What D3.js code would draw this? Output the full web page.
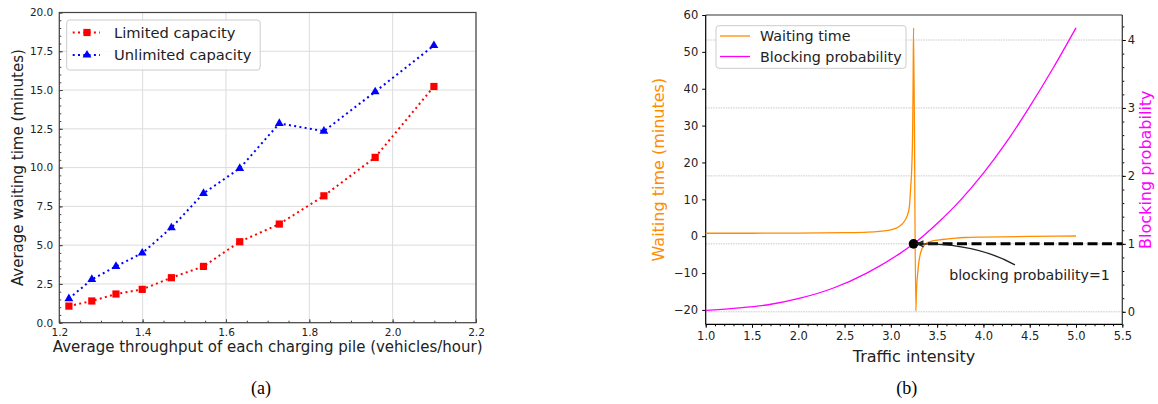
<!DOCTYPE html>
<html><head><meta charset="utf-8">
<script src="https://cdnjs.cloudflare.com/ajax/libs/d3/7.8.5/d3.min.js"></script>
<style>
body{margin:0;background:#fff;}
svg{display:block;font-family:"DejaVu Sans",sans-serif;}
</style></head>
<body>
<svg id="c" width="1158" height="404"></svg>
<script>
// ---------- data: panel (a) ----------
const throughput = [1.223,1.278,1.336,1.399,1.469,1.546,1.633,1.728,1.835,1.958,2.099];
const limitedCap = [1.07,1.40,1.85,2.15,2.90,3.63,5.22,6.36,8.18,10.66,15.23];
const unlimitedCap = [1.55,2.79,3.63,4.49,6.12,8.34,9.95,12.85,12.35,14.89,17.87];
const aXTicks = [1.2,1.4,1.6,1.8,2.0,2.2];
const aYTicks = [0,2.5,5,7.5,10,12.5,15,17.5,20];
const aLegend = ["Limited capacity","Unlimited capacity"];

// ---------- data: panel (b) ----------
const wtX = [1.0,1.5,2.0,2.5,2.75,2.9,3.0,3.05,3.1,3.15,3.18,3.2,3.215,3.225,3.235,3.24,3.245,
             3.27,3.275,3.28,3.29,3.30,3.315,3.33,3.36,3.39,3.45,3.55,3.7,3.8,4.0,4.5,5.0];
const wtY = [0.8,0.8,0.85,0.95,1.1,1.4,1.7,2.1,2.8,4.2,5.8,8.0,13.5,18,28,40,56.5,
             -20.3,-16,-13,-10,-7.5,-5.2,-3.8,-2.5,-1.8,-1.3,-0.9,-0.5,-0.35,-0.25,-0.05,0.05];
const bpX = [1.0,1.3,1.66,2.02,2.38,2.74,3.10,3.245,3.5,3.75,4.0,4.25,4.5,4.75,5.0];
const bpY = [0.02,0.05,0.10,0.20,0.35,0.57,0.86,1.0,1.30,1.64,2.04,2.50,3.02,3.58,4.18];
const bXTicks = [1.0,1.5,2.0,2.5,3.0,3.5,4.0,4.5,5.0,5.5];
const bYLeftTicks = [-20,-10,0,10,20,30,40,50,60];
const bYRightTicks = [0,1,2,3,4];
const bLegend = ["Waiting time","Blocking probability"];
const markPoint = {x:3.245, p:1};
const annotText = "blocking probability=1";
const annotPos = {x:3.63, p:0.47};
const arrowStart = {x:4.34, p:0.69};

const svg = d3.select("#c");
const fmtMinus = s => s.replace("-", "\u2212");

// ================= PANEL (a) =================
(function(){
  const L=59.3,R=476,T=12.5,B=322.7;
  const x = d3.scaleLinear().domain([1.2,2.2]).range([L,R]);
  const y = d3.scaleLinear().domain([0,20]).range([B,T]);
  const g = svg.append("g");
  g.append("g").selectAll("line").data(aXTicks).join("line")
    .attr("x1",d=>x(d)).attr("x2",d=>x(d)).attr("y1",T).attr("y2",B)
    .attr("stroke","#dcdcdc").attr("stroke-width",1);
  g.append("g").selectAll("line").data(aYTicks).join("line")
    .attr("y1",d=>y(d)).attr("y2",d=>y(d)).attr("x1",L).attr("x2",R)
    .attr("stroke","#dcdcdc").attr("stroke-width",1);
  const xMinor = d3.range(1.2,2.2001,0.05);
  const yMinor = d3.range(0,20.001,0.5);
  g.append("g").attr("transform",`translate(0,${B})`)
    .call(d3.axisBottom(x).tickValues(xMinor).tickSize(-2).tickFormat(""))
    .call(a=>a.select(".domain").remove()).selectAll("line").attr("stroke","#444");
  g.append("g").attr("transform",`translate(${L},0)`)
    .call(d3.axisLeft(y).tickValues(yMinor).tickSize(-2).tickFormat(""))
    .call(a=>a.select(".domain").remove()).selectAll("line").attr("stroke","#444");
  const xa = g.append("g").attr("transform",`translate(0,${B})`)
    .call(d3.axisBottom(x).tickValues(aXTicks).tickSize(-3.5).tickPadding(6).tickFormat(d3.format(".1f")));
  const ya = g.append("g").attr("transform",`translate(${L},0)`)
    .call(d3.axisLeft(y).tickValues(aYTicks).tickSize(-3.5).tickPadding(6).tickFormat(d3.format(".1f")));
  [xa,ya].forEach(a=>{a.select(".domain").remove();
    a.selectAll("line").attr("stroke","#444");
    a.selectAll("text").attr("font-family","DejaVu Sans").attr("font-size",10.5).attr("fill","#222");});
  g.append("rect").attr("x",L).attr("y",T).attr("width",R-L).attr("height",B-T)
    .attr("fill","none").attr("stroke","#444").attr("stroke-width",1.2);
  const pts = vals => throughput.map((t,i)=>[x(t),y(vals[i])]);
  const line = d3.line();
  g.append("path").attr("d",line(pts(unlimitedCap))).attr("fill","none")
    .attr("stroke","#0000ff").attr("stroke-width",2).attr("stroke-dasharray","2,3.3");
  g.append("path").attr("d",line(pts(limitedCap))).attr("fill","none")
    .attr("stroke","#ff0000").attr("stroke-width",2).attr("stroke-dasharray","2,3.3");
  const tri = d3.symbol().type(d3.symbolTriangle).size(34);
  g.append("g").selectAll("path").data(pts(unlimitedCap)).join("path")
    .attr("d",tri).attr("transform",d=>`translate(${d[0]},${d[1]})`).attr("fill","#0000ff");
  g.append("g").selectAll("rect").data(pts(limitedCap)).join("rect")
    .attr("x",d=>d[0]-3.6).attr("y",d=>d[1]-3.6).attr("width",7.2).attr("height",7.2).attr("fill","#ff0000");
  g.append("text").attr("x",(L+R)/2).attr("y",352).attr("text-anchor","middle")
    .attr("font-size",15).attr("fill","#222").text("Average throughput of each charging pile (vehicles/hour)");
  g.append("text").attr("transform",`translate(23,${(T+B)/2}) rotate(-90)`).attr("text-anchor","middle")
    .attr("font-size",15).attr("fill","#222").text("Average waiting time (minutes)");
  const lg = g.append("g");
  lg.append("rect").attr("x",66.7).attr("y",20).attr("width",193.5).attr("height",50).attr("rx",3)
    .attr("fill","#fff").attr("fill-opacity",0.85).attr("stroke","#ccc");
  const cols = ["#ff0000","#0000ff"];
  aLegend.forEach((name,i)=>{
    const cy = 32.5 + i*22.5;
    lg.append("line").attr("x1",72.7).attr("x2",100).attr("y1",cy).attr("y2",cy)
      .attr("stroke",cols[i]).attr("stroke-width",2).attr("stroke-dasharray","2,3.3");
    if(i===0) lg.append("rect").attr("x",87-3.6).attr("y",cy-3.6).attr("width",7.2).attr("height",7.2).attr("fill",cols[i]);
    else lg.append("path").attr("d",tri).attr("transform",`translate(87,${cy})`).attr("fill",cols[i]);
    lg.append("text").attr("x",114).attr("y",cy+5.3).attr("font-size",14.7).attr("fill","#222").text(name);
  });
  svg.append("text").attr("x",261).attr("y",394).attr("text-anchor","middle")
    .attr("font-family","Liberation Serif, Times New Roman, serif").attr("font-size",18).text("(a)");
})();

// ================= PANEL (b) =================
(function(){
  const L=705.7,R=1122.3,T=15,B=324.3;
  const x = d3.scaleLinear().domain([1.0,5.5]).range([L,R]);
  const yl = d3.scaleLinear().domain([-23.9,60]).range([B,T]);
  const yr = d3.scaleLinear().domain([-0.184,4.368]).range([B,T]);
  const g = svg.append("g");
  g.append("g").selectAll("line").data(bYRightTicks).join("line")
    .attr("x1",L).attr("x2",R).attr("y1",d=>yr(d)).attr("y2",d=>yr(d))
    .attr("stroke","#c8c8c8").attr("stroke-width",1).attr("stroke-dasharray","1.5,1");
  g.append("g").attr("transform",`translate(0,${B})`)
    .call(d3.axisBottom(x).tickValues(d3.range(1.0,5.5001,0.1)).tickSize(2).tickFormat(""))
    .call(a=>a.select(".domain").remove()).selectAll("line").attr("stroke","#000");
  g.append("g").attr("transform",`translate(${R},0)`)
    .call(d3.axisRight(yr).tickValues(d3.range(-0.2,4.3,0.2).filter(v=>v>-0.19)).tickSize(2).tickFormat(""))
    .call(a=>a.select(".domain").remove()).selectAll("line").attr("stroke","#000");
  const xa = g.append("g").attr("transform",`translate(0,${B})`)
    .call(d3.axisBottom(x).tickValues(bXTicks).tickSize(3.5).tickPadding(4).tickFormat(d3.format(".1f")));
  const ya = g.append("g").attr("transform",`translate(${L},0)`)
    .call(d3.axisLeft(yl).tickValues(bYLeftTicks).tickSize(3.5).tickPadding(4).tickFormat(d=>fmtMinus(String(d))));
  const yra = g.append("g").attr("transform",`translate(${R},0)`)
    .call(d3.axisRight(yr).tickValues(bYRightTicks).tickSize(3.5).tickPadding(2).tickFormat(d3.format("d")));
  [xa,ya,yra].forEach(a=>{a.select(".domain").remove();
    a.selectAll("line").attr("stroke","#000");
    a.selectAll("text").attr("font-family","DejaVu Sans").attr("font-size",11.5).attr("fill","#222");});
  g.append("line").attr("x1",L).attr("x2",R).attr("y1",T).attr("y2",T).attr("stroke","#777").attr("stroke-width",1.3);
  g.append("line").attr("x1",L).attr("x2",R).attr("y1",B).attr("y2",B).attr("stroke","#000").attr("stroke-width",1.2);
  g.append("line").attr("x1",L).attr("x2",L).attr("y1",T).attr("y2",B).attr("stroke","#000").attr("stroke-width",1.2);
  g.append("line").attr("x1",R).attr("x2",R).attr("y1",T).attr("y2",B).attr("stroke","#333").attr("stroke-width",1.2);
  const lineL = d3.line().x((d,i)=>x(wtX[i])).y(d=>yl(d)).curve(d3.curveMonotoneX);
  const lineR = d3.line().x((d,i)=>x(bpX[i])).y(d=>yr(d)).curve(d3.curveMonotoneX);
  g.append("path").attr("d",lineL(wtY)).attr("fill","none").attr("stroke","#ff8c00").attr("stroke-width",1.3);
  g.append("path").attr("d",lineR(bpY)).attr("fill","none").attr("stroke","#ff00ff").attr("stroke-width",1.3);
  g.append("line").attr("x1",x(markPoint.x)).attr("x2",R).attr("y1",yr(markPoint.p)).attr("y2",yr(markPoint.p))
    .attr("stroke","#000").attr("stroke-width",3).attr("stroke-dasharray","10,4.5");
  g.append("circle").attr("cx",x(markPoint.x)).attr("cy",yr(markPoint.p)).attr("r",4.8).attr("fill","#000");
  const sx=x(arrowStart.x), sy=yr(arrowStart.p), ex=x(markPoint.x)+4, ey=yr(markPoint.p);
  const cx = sx-0.4*(sx-ex), cy = ey-1;
  g.append("path").attr("d",`M${sx},${sy} Q${cx},${cy} ${ex},${ey}`).attr("fill","none")
    .attr("stroke","#222").attr("stroke-width",1.3);
  g.append("path").attr("d",`M${ex+6},${ey-3} L${ex},${ey} L${ex+6},${ey+3}`).attr("fill","none")
    .attr("stroke","#222").attr("stroke-width",1.3);
  g.append("text").attr("x",x(annotPos.x)).attr("y",yr(annotPos.p)).attr("font-size",14.2).attr("fill","#222").text(annotText);
  g.append("text").attr("x",(L+R)/2).attr("y",362).attr("text-anchor","middle")
    .attr("font-size",16).attr("fill","#222").text("Traffic intensity");
  g.append("text").attr("transform",`translate(664,${(T+B)/2}) rotate(-90)`).attr("text-anchor","middle")
    .attr("font-size",16).attr("fill","#ff8c00").text("Waiting time (minutes)");
  g.append("text").attr("transform",`translate(1151,${(T+B)/2}) rotate(-90)`).attr("text-anchor","middle")
    .attr("font-size",16).attr("fill","#ff00ff").text("Blocking probability");
  const lg = g.append("g");
  lg.append("rect").attr("x",716).attr("y",25.7).attr("width",190).attr("height",42.6).attr("rx",3)
    .attr("fill","#fff").attr("fill-opacity",0.85).attr("stroke","#ccc");
  const cols = ["#ff8c00","#ff00ff"];
  bLegend.forEach((name,i)=>{
    const cy = 36 + i*20.5;
    lg.append("line").attr("x1",720).attr("x2",750).attr("y1",cy).attr("y2",cy).attr("stroke",cols[i]).attr("stroke-width",1.3);
    lg.append("text").attr("x",760).attr("y",cy+5.2).attr("font-size",14.3).attr("fill","#222").text(name);
  });
  svg.append("text").attr("x",906.7).attr("y",394).attr("text-anchor","middle")
    .attr("font-family","Liberation Serif, Times New Roman, serif").attr("font-size",18).text("(b)");
})();
</script>
</body></html>
